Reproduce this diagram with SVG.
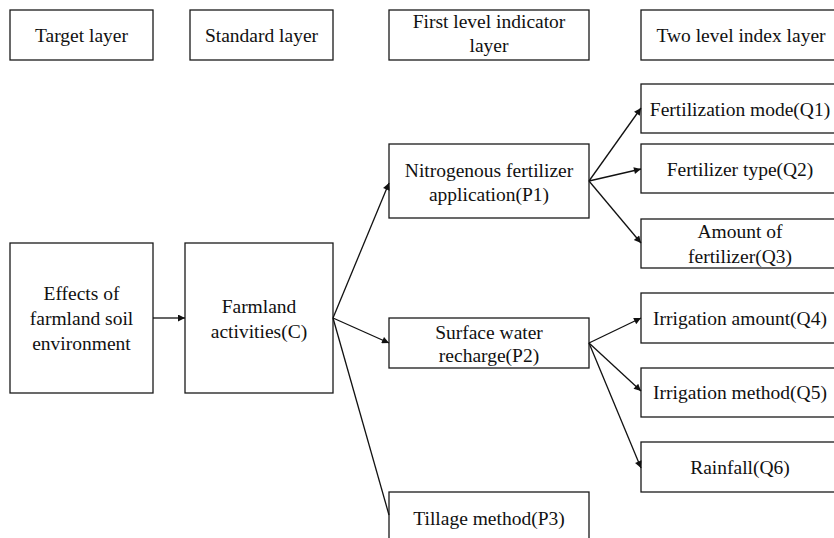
<svg xmlns="http://www.w3.org/2000/svg" width="834" height="538" viewBox="0 0 834 538">
<style>
rect{fill:#fff;stroke:#1a1a1a;stroke-width:1.3}
text{font-family:'Times New Roman','Liberation Serif','DejaVu Serif',serif;font-size:19.5px;fill:#111;text-anchor:middle}
.c{stroke:#111;stroke-width:1.3;fill:none}
.a{marker-end:url(#ah)}
</style>
<defs>
<marker id="ah" viewBox="0 0 10 10" refX="10" refY="5" markerWidth="9" markerHeight="7" markerUnits="userSpaceOnUse" orient="auto">
<path d="M0,0 L10,5 L0,10 z" fill="#111"/>
</marker>
</defs>
<g id="h-target"><rect x="10" y="10" width="143" height="50"/><text x="81.5" y="41.5">Target layer</text></g>
<g id="h-standard"><rect x="190" y="10" width="143" height="50"/><text x="261.5" y="41.5">Standard layer</text></g>
<g id="h-first"><rect x="389" y="10" width="200" height="50"/><text x="489" y="28">First level indicator</text><text x="489" y="52">layer</text></g>
<g id="h-two"><rect x="641" y="10" width="200" height="50"/><text x="741" y="41.5">Two level index layer</text></g>
<g id="effects"><rect x="10" y="243" width="143" height="150"/><text x="81.5" y="300">Effects of</text><text x="81.5" y="325">farmland soil</text><text x="81.5" y="350">environment</text></g>
<g id="farmland"><rect x="185" y="243" width="148" height="150"/><text x="259" y="313">Farmland</text><text x="259" y="338">activities(C)</text></g>
<g id="p1"><rect x="389" y="144" width="200" height="74"/><text x="489" y="177">Nitrogenous fertilizer</text><text x="489" y="200.5">application(P1)</text></g>
<g id="p2"><rect x="389" y="318" width="200" height="50"/><text x="489" y="338.5">Surface water</text><text x="489" y="362">recharge(P2)</text></g>
<g id="p3"><rect x="389" y="492" width="200" height="60"/><text x="489" y="525">Tillage method(P3)</text></g>
<g id="q1"><rect x="641" y="84" width="200" height="49"/><text x="740" y="115.5">Fertilization mode(Q1)</text></g>
<g id="q2"><rect x="641" y="144" width="200" height="49"/><text x="740" y="175.5">Fertilizer type(Q2)</text></g>
<g id="q3"><rect x="641" y="219" width="200" height="49"/><text x="740" y="237.5">Amount of</text><text x="740" y="262.5">fertilizer(Q3)</text></g>
<g id="q4"><rect x="641" y="293" width="200" height="50"/><text x="740" y="324.5">Irrigation amount(Q4)</text></g>
<g id="q5"><rect x="641" y="368" width="200" height="49"/><text x="740" y="398.5">Irrigation method(Q5)</text></g>
<g id="q6"><rect x="641" y="442" width="200" height="50"/><text x="740" y="473.5">Rainfall(Q6)</text></g>
<g id="connectors">
<line class="c a" x1="153" y1="318" x2="185" y2="318"/>
<line class="c a" x1="333" y1="318" x2="389" y2="183"/>
<line class="c a" x1="333" y1="318" x2="389" y2="343"/>
<line class="c" x1="333" y1="318" x2="389" y2="515"/>
<line class="c a" x1="589" y1="181" x2="641" y2="108"/>
<line class="c a" x1="589" y1="181" x2="641" y2="169"/>
<line class="c a" x1="589" y1="181" x2="641" y2="243"/>
<line class="c a" x1="589" y1="343" x2="641" y2="318"/>
<line class="c a" x1="589" y1="343" x2="641" y2="391"/>
<line class="c a" x1="589" y1="343" x2="641" y2="468"/>
</g>
</svg>
